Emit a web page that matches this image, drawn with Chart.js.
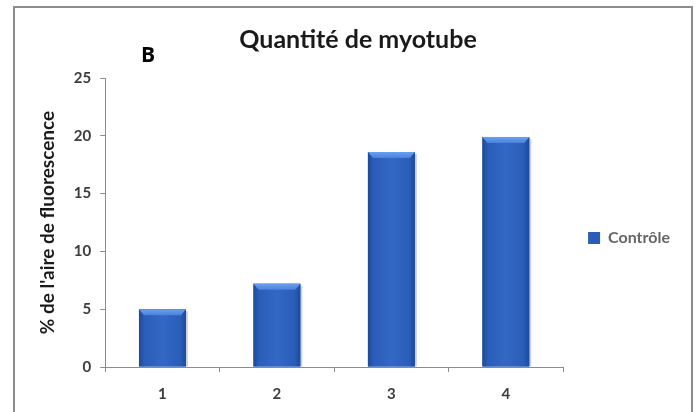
<!DOCTYPE html>
<html>
<head>
<meta charset="utf-8">
<script src="https://cdn.jsdelivr.net/npm/chart.js@4"></script>
<style>
  html, body { margin: 0; padding: 0; background: #fff; }
  #wrap { position: relative; width: 700px; height: 412px; overflow: hidden; }
  #frame { position: absolute; left: 13px; top: 6px; width: 680px; height: 420px;
           border: 2px solid #8c8c8c; box-sizing: border-box; pointer-events: none; }
  #label { position: absolute; left: 141px; top: 40px; font: bold 21px "Open Sans", sans-serif; color: #000; }
  canvas { position: absolute; left: 0; top: 0; }
</style>
</head>
<body>
<div id="wrap">
  <canvas id="c" width="700" height="412"></canvas>
  <div id="frame"></div>
  <div id="label">B</div>
</div>
<script>
const categories = ["1", "2", "3", "4"];
const seriesName = "Contrôle";
const values = [5.0, 7.2, 18.6, 19.9];
const yTicks = [0, 5, 10, 15, 20, 25];
const chartTitle = "Quantité de myotube";
const yTitle = "% de l'aire de fluorescence";

const bevelPlugin = {
  id: 'bevel',
  afterDatasetsDraw(chart) {
    const ctx = chart.ctx;
    chart.getDatasetMeta(0).data.forEach(bar => {
      const w = bar.width, x0 = bar.x - w / 2, x1 = bar.x + w / 2;
      const top = bar.y, base = bar.base;
      ctx.save();
      ctx.fillStyle = 'rgba(120,120,120,0.35)';
      ctx.fillRect(x1, top + 2, 2, base - top - 2);
      const g = ctx.createLinearGradient(x0, 0, x1, 0);
      g.addColorStop(0, '#1c4a9a');
      g.addColorStop(0.12, '#2a5db8');
      g.addColorStop(0.5, '#3468c6');
      g.addColorStop(0.88, '#2a5db8');
      g.addColorStop(1, '#1c4a9a');
      ctx.fillStyle = g;
      ctx.fillRect(x0, top, w, base - top);
      const bh = 6;
      const gb = ctx.createLinearGradient(0, top, 0, top + bh);
      gb.addColorStop(0, '#6aa0ee');
      gb.addColorStop(1, '#4a82dc');
      ctx.fillStyle = gb;
      ctx.beginPath();
      ctx.moveTo(x0, top);
      ctx.lineTo(x1, top);
      ctx.lineTo(x1 - 5, top + bh);
      ctx.lineTo(x0 + 5, top + bh);
      ctx.closePath();
      ctx.fill();
      ctx.restore();
    });
  }
};

new Chart(document.getElementById('c'), {
  type: 'bar',
  data: {
    labels: categories,
    datasets: [{
      label: seriesName,
      data: values,
      backgroundColor: '#2d5fba',
      borderWidth: 0,
      barPercentage: 0.41,
      categoryPercentage: 1.0
    }]
  },
  options: {
    responsive: false,
    animation: false,
    events: [],
    layout: { padding: { left: 36, right: 20, top: 10, bottom: 0 } },
    plugins: {
      title: {
        display: true,
        text: chartTitle,
        color: '#1a1a1a',
        font: { family: 'Lato', size: 25, weight: 'bold' },
        padding: { top: 15, bottom: 23 }
      },
      legend: {
        position: 'right',
        title: { display: true, text: ' ', font: { size: 10 }, padding: { top: 42, bottom: 0 } },
        labels: {
          boxWidth: 12, boxHeight: 12,
          color: '#1a1a1a',
          font: { family: 'Lato', size: 16, weight: 'bold' },
          padding: 25,
          generateLabels(chart) {
            return [{ text: seriesName, fillStyle: '#2a5db8', strokeStyle: '#2a5db8', lineWidth: 0, datasetIndex: 0 }];
          }
        }
      },
      tooltip: { enabled: false }
    },
    scales: {
      x: {
        offset: true,
        afterFit(scale) { scale.height = 45; },
        grid: { offset: true, drawOnChartArea: false, drawTicks: true, tickLength: 5, color: '#8c8c8c' },
        border: { color: '#8c8c8c', width: 1 },
        ticks: { color: '#3c3c3c', font: { family: 'Lato', size: 15, weight: 'bold', lineHeight: 1.0 }, padding: 15 }
      },
      y: {
        min: 0, max: 25,
        afterBuildTicks(scale) { scale.ticks = yTicks.map(v => ({ value: v })); },
        grid: { drawOnChartArea: false, drawTicks: true, tickLength: 5, color: '#8c8c8c' },
        border: { color: '#8c8c8c', width: 1 },
        ticks: { color: '#3c3c3c', font: { family: 'Lato', size: 15, weight: 'bold' }, padding: 9 },
        title: {
          display: true, text: yTitle, color: '#1a1a1a',
          font: { family: 'Lato', size: 19, weight: 'bold' },
          padding: { top: 0, bottom: 6 }
        }
      }
    }
  },
  plugins: [bevelPlugin]
});
</script>
</body>
</html>
